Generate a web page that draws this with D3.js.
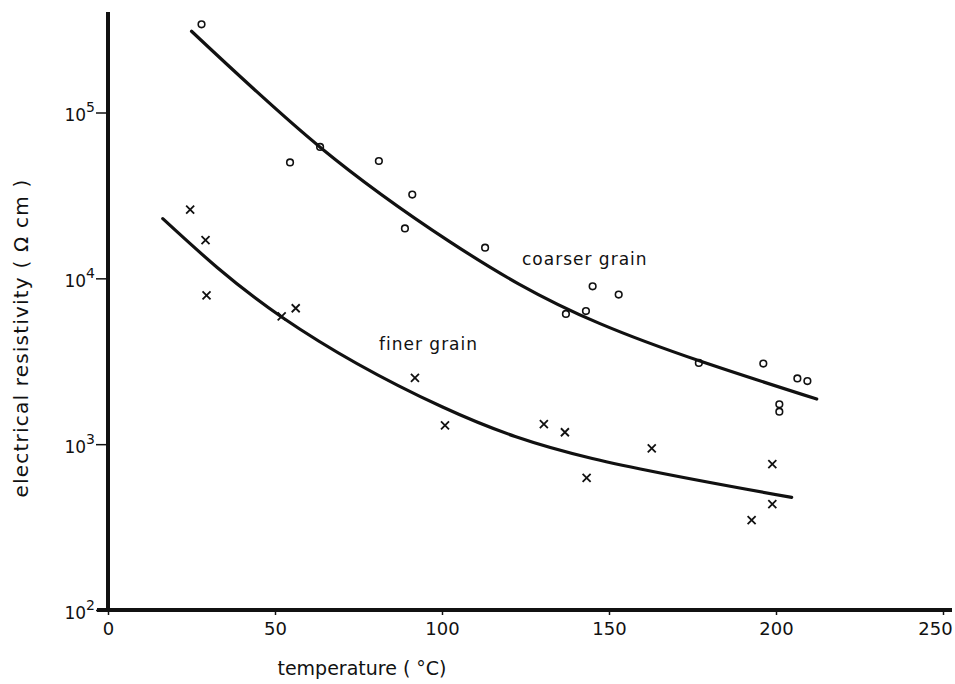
<!DOCTYPE html>
<html>
<head>
<meta charset="utf-8">
<script src="https://cdn.jsdelivr.net/npm/d3@7"></script>
<style>
  body { margin: 0; background: #fff; }
  text { font-family: "DejaVu Sans", sans-serif; fill: #111; }
</style>
</head>
<body>
<svg id="chart" width="955" height="684"></svg>
<script>
// measured points, coarser grain (circles)
const coarseTemp = [28.0, 54.5, 63.5, 81.1, 88.9, 91.1, 112.9, 137.1, 143.1, 145.1, 152.9, 176.9, 196.2, 201.0, 201.0, 206.4, 209.4];
const coarseRes  = [340000, 50000, 62000, 51000, 20000, 32000, 15300, 6100, 6350, 8950, 7980, 3090, 3060, 1740, 1570, 2490, 2400];

// measured points, finer grain (crosses)
const fineTemp = [24.6, 29.2, 29.5, 52.0, 56.2, 91.9, 100.9, 130.5, 136.8, 143.3, 162.8, 192.7, 198.9, 198.9];
const fineRes  = [26000, 17000, 7900, 5900, 6600, 2510, 1300, 1320, 1180, 627, 942, 348, 759, 435];

// hand drawn fit curves
const coarseFitTemp = [25, 63.5, 102.4, 147.3, 212.2];
const coarseFitRes  = [309000, 61800, 16600, 5330, 1870];
const fineFitTemp = [16.4, 52, 100, 145, 204.7];
const fineFitRes  = [22900, 5850, 1680, 820, 478];

const xTicks = [0, 50, 100, 150, 200, 250];
const yTicks = [1e2, 1e3, 1e4, 1e5];
const xTitle = "temperature ( °C)";
const yTitle = "electrical resistivity ( Ω cm )";
const coarseLabel = "coarser grain";
const fineLabel = "finer grain";

const svg = d3.select("svg#chart");

const x = d3.scaleLinear().domain([0, 250]).range([108, 943]);
const y = d3.scaleLog().domain([100, Math.pow(10, 5.6)]).range([610, 13]);

const zip = (a, b) => a.map((v, i) => [v, b[i]]);

// x axis
const xAxis = svg.append("g")
    .attr("transform", `translate(0,${y(100)})`)
    .call(d3.axisBottom(x).tickValues(xTicks).tickSize(5).tickSizeOuter(0).tickPadding(7));
xAxis.select(".domain").remove();
xAxis.selectAll(".tick line").attr("stroke", "#111").attr("stroke-width", 1.5);
xAxis.selectAll(".tick text").attr("font-size", 18).attr("fill", "#111")
    .style("font-family", "DejaVu Sans, sans-serif")
    .attr("dx", d => d === 250 ? -8 : 0);

// y axis
const yAxis = svg.append("g")
    .attr("transform", `translate(${x(0)},0)`)
    .call(d3.axisLeft(y).tickValues(yTicks).tickSize(12).tickSizeOuter(0).tickFormat(""));
yAxis.select(".domain").remove();
yAxis.selectAll(".tick line").attr("stroke", "#111").attr("stroke-width", 1.5);
yAxis.selectAll(".tick").append("text")
    .attr("x", -13).attr("y", 8)
    .attr("text-anchor", "end")
    .attr("font-size", 17)
    .style("font-family", "DejaVu Sans, sans-serif")
    .call(t => {
      t.append("tspan").text("10");
      t.append("tspan").attr("dy", -9).attr("font-size", 14)
        .text(d => Math.round(Math.log10(d)));
    });

// axis lines
svg.append("line")
    .attr("x1", x(0)).attr("x2", x(0))
    .attr("y1", y.range()[1] - 1).attr("y2", y(100) + 2)
    .attr("stroke", "#111").attr("stroke-width", 4);
svg.append("line")
    .attr("x1", x(0) - 11).attr("x2", 952)
    .attr("y1", y(100)).attr("y2", y(100))
    .attr("stroke", "#111").attr("stroke-width", 4);

// titles
svg.append("text")
    .attr("x", 362).attr("y", 675)
    .attr("text-anchor", "middle")
    .attr("font-size", 19)
    .text(xTitle);
svg.append("text")
    .attr("transform", "translate(28,338) rotate(-90)")
    .attr("text-anchor", "middle")
    .attr("font-size", 20).attr("letter-spacing", 1.2)
    .text(yTitle);

// fit curves
const line = d3.line()
    .x(d => x(d[0]))
    .y(d => y(d[1]))
    .curve(d3.curveNatural);

svg.append("path")
    .datum(zip(coarseFitTemp, coarseFitRes))
    .attr("d", line)
    .attr("fill", "none").attr("stroke", "#111")
    .attr("stroke-width", 3.2).attr("stroke-linecap", "round");
svg.append("path")
    .datum(zip(fineFitTemp, fineFitRes))
    .attr("d", line)
    .attr("fill", "none").attr("stroke", "#111")
    .attr("stroke-width", 3.2).attr("stroke-linecap", "round");

// circles
svg.append("g").selectAll("circle")
    .data(zip(coarseTemp, coarseRes))
    .join("circle")
    .attr("cx", d => x(d[0]))
    .attr("cy", d => y(d[1]))
    .attr("r", 3.3)
    .attr("fill", "none").attr("stroke", "#111").attr("stroke-width", 1.6);

// crosses
const s = 4;
svg.append("g").selectAll("path")
    .data(zip(fineTemp, fineRes))
    .join("path")
    .attr("d", d => {
      const cx = x(d[0]), cy = y(d[1]);
      return `M${cx - s},${cy - s}L${cx + s},${cy + s}M${cx - s},${cy + s}L${cx + s},${cy - s}`;
    })
    .attr("stroke", "#111").attr("stroke-width", 1.8);

// curve labels
svg.append("text")
    .attr("x", 522).attr("y", 265)
    .attr("font-size", 17).attr("letter-spacing", 1)
    .text(coarseLabel);
svg.append("text")
    .attr("x", 379).attr("y", 350)
    .attr("font-size", 17).attr("letter-spacing", 1)
    .text(fineLabel);
</script>
</body>
</html>
